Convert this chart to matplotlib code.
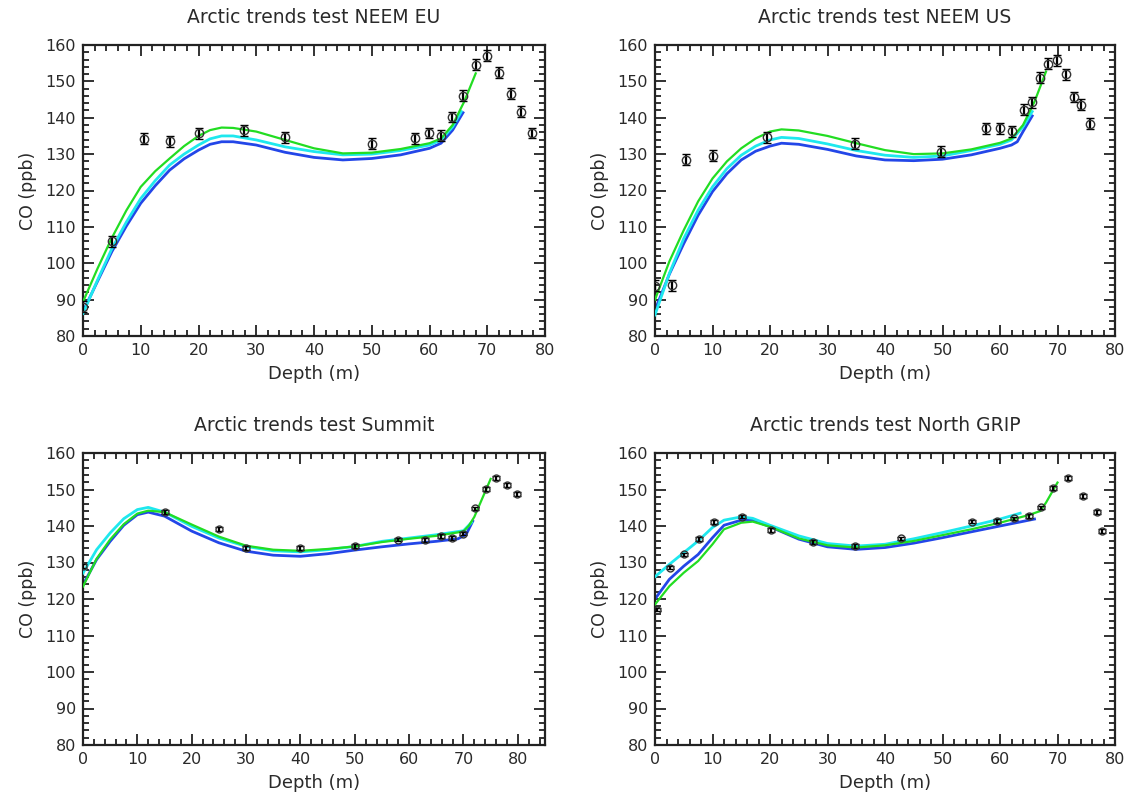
import numpy as np
import matplotlib
matplotlib.use("Agg")
import matplotlib.pyplot as plt
from matplotlib.ticker import MultipleLocator

plt.rcParams['font.family'] = ['DejaVu Sans']

# ---------------- NEEM EU ----------------
eu_obs_depth = [0, 5.1, 10.5, 15.1, 20.0, 27.8, 34.9, 50.1, 57.5, 59.9, 62.0, 63.9, 65.8, 68.0, 70.0, 72.1, 74.1, 75.9, 77.7]
eu_obs_co = [88.0, 106.0, 134.2, 133.5, 135.7, 136.6, 134.6, 132.8, 134.3, 135.8, 135.1, 140.2, 146.0, 154.6, 157.1, 152.4, 146.6, 141.6, 135.8]
eu_obs_err = [1.5] * 19
eu_green_depth = [0, 2.5, 5, 7.5, 10, 12.5, 15, 17.5, 20, 22, 24, 26, 30, 35, 40, 45, 50, 55, 60, 62, 64, 66, 68]
eu_green_co = [89.4, 98.5, 107.0, 114.5, 121.0, 125.3, 128.8, 132.2, 135.0, 136.6, 137.3, 137.2, 136.2, 133.9, 131.6, 130.2, 130.4, 131.4, 133.0, 134.3, 138.0, 144.4, 152.2]
eu_cyan_depth = [0, 2.5, 5, 7.5, 10, 12.5, 15, 17.5, 20, 22, 24, 26, 30, 35, 40, 45, 50, 55, 60, 62, 64, 65.5]
eu_cyan_co = [86.2, 95.3, 104.0, 111.3, 117.8, 122.7, 127.0, 130.0, 132.5, 134.2, 135.0, 135.0, 133.9, 132.0, 130.7, 129.8, 130.0, 131.0, 132.5, 133.9, 137.5, 141.7]
eu_blue_depth = [0, 2.5, 5, 7.5, 10, 12.5, 15, 17.5, 20, 22, 24, 26, 30, 35, 40, 45, 50, 55, 60, 62, 64, 65.8]
eu_blue_co = [86.7, 95.0, 103.2, 110.2, 116.5, 121.3, 125.6, 128.7, 131.1, 132.7, 133.4, 133.4, 132.5, 130.5, 129.1, 128.4, 128.8, 129.8, 131.6, 133.0, 136.6, 141.4]

# ---------------- NEEM US ----------------
us_obs_depth = [0, 3.0, 5.4, 10.0, 19.4, 34.8, 49.7, 57.5, 60.0, 62.1, 64.2, 65.6, 67.0, 68.4, 69.9, 71.4, 72.9, 74.0, 75.7]
us_obs_co = [93.8, 94.0, 128.4, 129.6, 134.6, 132.8, 130.7, 137.1, 137.1, 136.3, 142.2, 144.3, 151.0, 154.9, 155.8, 152.0, 145.7, 143.6, 138.3]
us_obs_err = [1.5] * 19
us_green_depth = [0, 2.5, 5, 7.5, 10, 12.5, 15, 17.5, 20, 22, 25, 30, 35, 40, 45, 50, 55, 60, 62, 64, 66, 68]
us_green_co = [90.0, 100.5, 109.1, 117.0, 123.3, 128.0, 131.6, 134.3, 136.2, 136.8, 136.5, 135.0, 133.0, 131.1, 130.0, 130.2, 131.3, 133.1, 134.3, 138.0, 144.4, 152.7]
us_cyan_depth = [0, 2.5, 5, 7.5, 10, 12.5, 15, 17.5, 20, 22, 25, 30, 35, 40, 45, 50, 55, 60, 62, 64, 65.6]
us_cyan_co = [85.8, 97.2, 106.8, 114.6, 121.0, 126.0, 129.7, 132.2, 133.9, 134.6, 134.3, 132.8, 131.0, 129.7, 129.1, 129.5, 131.0, 132.7, 133.9, 137.5, 141.7]
us_blue_depth = [0, 2.5, 5, 7.5, 10, 12.5, 15, 17.5, 20, 22, 25, 30, 35, 40, 45, 50, 55, 60, 62, 63, 64, 65.6]
us_blue_co = [87.1, 97.0, 105.4, 113.2, 119.7, 124.6, 128.4, 130.8, 132.2, 133.0, 132.7, 131.3, 129.5, 128.4, 128.2, 128.6, 129.8, 131.6, 132.5, 133.4, 136.2, 140.5]

# ---------------- Summit ----------------
su_obs_depth = [0, 15.1, 25.0, 30.0, 39.9, 50.0, 58.0, 63.0, 65.9, 67.9, 70.0, 72.1, 74.2, 76.0, 78.0, 79.9]
su_obs_co = [129.1, 143.9, 139.2, 133.9, 134.0, 134.6, 136.3, 136.1, 137.2, 136.8, 137.9, 144.8, 150.1, 153.1, 151.3, 148.8]
su_obs_err = [0.5] * 16
su_green_depth = [0, 2.5, 5, 7.5, 10, 12, 15, 20, 25, 30, 35, 40, 45, 50, 55, 60, 65, 70, 71, 72, 75]
su_green_co = [123.4, 131.0, 136.3, 140.5, 143.4, 144.2, 143.8, 140.4, 137.1, 134.6, 133.5, 133.2, 133.7, 134.4, 135.6, 136.5, 137.3, 138.5, 140.1, 142.5, 152.9]
su_cyan_depth = [0, 2.5, 5, 7.5, 10, 12, 15, 20, 25, 30, 35, 40, 45, 50, 55, 60, 65, 70, 71.5]
su_cyan_co = [127.1, 133.5, 138.1, 142.0, 144.5, 145.1, 143.8, 139.9, 136.7, 134.4, 133.2, 132.9, 133.5, 134.4, 135.8, 136.7, 137.6, 138.7, 141.0]
su_blue_depth = [0, 2.5, 5, 7.5, 10, 12, 15, 20, 25, 30, 35, 40, 45, 50, 55, 60, 65, 69, 70.5, 71.7]
su_blue_co = [123.9, 130.8, 135.8, 140.2, 143.1, 143.8, 142.7, 138.6, 135.4, 133.1, 132.0, 131.7, 132.4, 133.4, 134.3, 135.1, 135.8, 136.5, 137.7, 141.3]

# ---------------- North GRIP ----------------
ng_obs_depth = [0.4, 2.6, 5.1, 7.7, 10.3, 15.1, 20.1, 27.5, 34.8, 42.7, 55.2, 59.4, 62.4, 65.1, 67.1, 69.2, 71.9, 74.4, 76.8, 77.7]
ng_obs_co = [117.1, 128.6, 132.2, 136.4, 141.1, 142.6, 138.9, 135.7, 134.5, 136.6, 141.2, 141.4, 142.1, 142.8, 145.1, 150.4, 153.1, 148.3, 143.9, 138.6]
ng_obs_err = [0.5] * 20
ng_green_depth = [0, 2.5, 5, 7.5, 10, 12, 15, 17, 20, 25, 30, 35, 40, 45, 50, 55, 60, 65, 67, 68, 70]
ng_green_co = [118.5, 123.5, 127.2, 130.4, 135.0, 139.1, 140.9, 141.2, 139.8, 136.6, 134.7, 134.1, 134.7, 135.9, 137.5, 139.1, 140.9, 143.0, 144.1, 146.4, 151.9]
ng_cyan_depth = [0, 2.5, 5, 7.5, 10, 12, 15, 17, 20, 25, 30, 35, 40, 45, 50, 55, 60, 63.5]
ng_cyan_co = [126.1, 129.5, 132.7, 135.9, 139.6, 141.6, 142.5, 142.1, 140.2, 137.3, 135.2, 134.5, 135.0, 136.5, 138.2, 140.0, 141.9, 143.5]
ng_blue_depth = [0, 2.5, 5, 7.5, 10, 12, 15, 17, 20, 25, 30, 35, 40, 45, 50, 55, 60, 66]
ng_blue_co = [120.0, 125.4, 129.0, 132.2, 136.8, 140.2, 141.6, 141.6, 139.8, 136.4, 134.3, 133.6, 134.1, 135.3, 136.8, 138.4, 140.0, 141.9]

titles = ["Arctic trends test NEEM EU", "Arctic trends test NEEM US",
          "Arctic trends test Summit", "Arctic trends test North GRIP"]
xmax = [80, 80, 85, 80]

panels = [
    (eu_obs_depth, eu_obs_co, eu_obs_err, eu_blue_depth, eu_blue_co, eu_cyan_depth, eu_cyan_co, eu_green_depth, eu_green_co),
    (us_obs_depth, us_obs_co, us_obs_err, us_blue_depth, us_blue_co, us_cyan_depth, us_cyan_co, us_green_depth, us_green_co),
    (su_obs_depth, su_obs_co, su_obs_err, su_blue_depth, su_blue_co, su_cyan_depth, su_cyan_co, su_green_depth, su_green_co),
    (ng_obs_depth, ng_obs_co, ng_obs_err, ng_blue_depth, ng_blue_co, ng_cyan_depth, ng_cyan_co, ng_green_depth, ng_green_co),
]

W, H = 1130, 798
fig = plt.figure(figsize=(W / 100, H / 100), dpi=100)
boxes = [(83, 45, 545, 336), (655, 45, 1115, 336), (83, 453, 545, 745), (655, 453, 1115, 745)]

blue_c = "#2346e8"
cyan_c = "#1ee8ee"
green_c = "#22dd22"
txt_c = "#2a2a2a"

for i, (box, data) in enumerate(zip(boxes, panels)):
    l, t, r, b = box
    ax = fig.add_axes([l / W, 1 - b / H, (r - l) / W, (b - t) / H])
    od, oc, oe, bd, bc, cd, cc, gd, gc = data
    ax.plot(bd, bc, color=blue_c, lw=2.0, zorder=2)
    ax.plot(cd, cc, color=cyan_c, lw=2.0, zorder=3)
    ax.plot(gd, gc, color=green_c, lw=1.6, zorder=4)
    ms = 6 if i < 2 else 5
    ax.errorbar(od, oc, yerr=oe, fmt='o', mfc='none', mec='#333333', ms=ms, mew=1.0,
                ecolor='black', elinewidth=1.6, capsize=3, capthick=1.4, zorder=5)
    ax.set_xlim(0, xmax[i])
    ax.set_ylim(80, 160)
    ax.xaxis.set_major_locator(MultipleLocator(10))
    ax.xaxis.set_minor_locator(MultipleLocator(2))
    ax.yaxis.set_major_locator(MultipleLocator(10))
    ax.yaxis.set_minor_locator(MultipleLocator(2))
    ax.tick_params(which='both', direction='in', top=True, right=True, labelsize=11.5,
                   color='#222222', labelcolor=txt_c)
    ax.tick_params(which='major', length=8, width=1.3, pad=5)
    ax.tick_params(which='minor', length=4, width=1.3)
    for s in ax.spines.values():
        s.set_linewidth(1.6)
        s.set_color('#222222')
    ax.set_xlabel("Depth (m)", fontsize=13, labelpad=5, color=txt_c)
    ax.set_ylabel("CO (ppb)", fontsize=12.5, labelpad=6, color=txt_c)
    ax.set_title(titles[i], fontsize=13.5, pad=16, color=txt_c)

fig.savefig("out.png", dpi=100)
